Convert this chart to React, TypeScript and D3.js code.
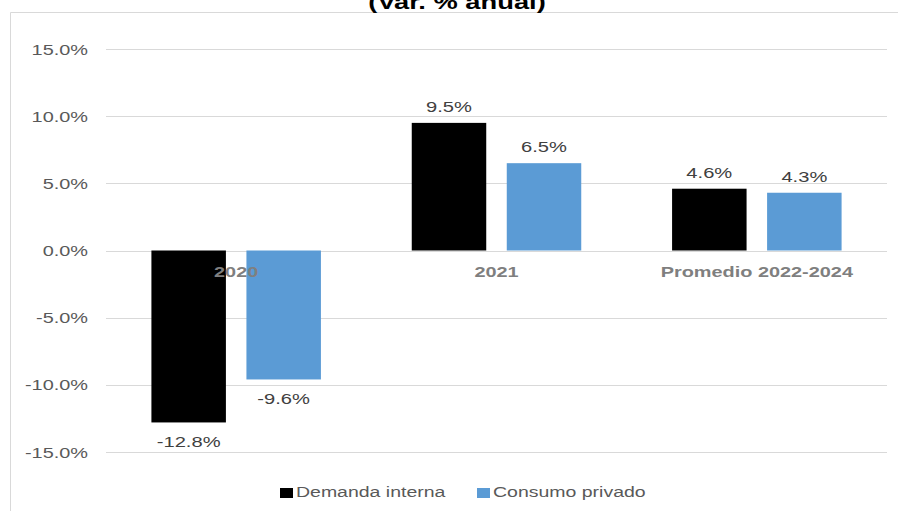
import React from "react";
import * as d3 from "d3";

const categories = ["2020", "2021", "Promedio 2022-2024"];
const seriesNames = ["Demanda interna", "Consumo privado"];
const demandaInterna = [-12.8, 9.5, 4.6];
const consumoPrivado = [-9.6, 6.5, 4.3];
const yTicks = [15, 10, 5, 0, -5, -10, -15];
const colors = ["#000000", "#5b9bd5"];
const title = "(Var. % anual)";

const W = 898;
const H = 511;
const FONT = "'Liberation Sans', Arial, Helvetica, sans-serif";
const SX = 1.3;

type STProps = {
  x: number;
  y: number;
  anchor?: "start" | "middle" | "end";
  size: number;
  weight?: string;
  fill: string;
  children: React.ReactNode;
};

function SText({ x, y, anchor = "start", size, weight = "normal", fill, children }: STProps) {
  return (
    <text
      transform={`translate(${x},${y}) scale(${SX},1)`}
      textAnchor={anchor}
      fontSize={size}
      fontWeight={weight}
      fill={fill}
    >
      {children}
    </text>
  );
}

export default function App() {
  const x0 = d3.scaleBand<string>().domain(categories).range([106, 887]).paddingInner(0).paddingOuter(0);
  const x1 = d3
    .scaleBand<string>()
    .domain(seriesNames)
    .range([0, x0.bandwidth()])
    .paddingInner(0.216)
    .paddingOuter(0.478);
  const y = d3.scaleLinear().domain([-15, 15]).range([452, 49]);
  const fmt = (v: number) => d3.format(".1f")(v).replace("\u2212", "-") + "%";
  const seriesValues = [demandaInterna, consumoPrivado];

  const legendItems = [
    { name: seriesNames[0], color: colors[0], x: 280 },
    { name: seriesNames[1], color: colors[1], x: 477 },
  ];

  return (
    <svg
      width={W}
      height={H}
      style={{ position: "absolute", left: 0, top: 0, background: "#fff" }}
      fontFamily={FONT}
    >
      <rect x={0} y={0} width={W} height={H} fill="#fff" />
      {/* chart frame */}
      <line x1={10.5} y1={12.5} x2={W} y2={12.5} stroke="#d9d9d9" strokeWidth={1} />
      <line x1={10.5} y1={12.5} x2={10.5} y2={H} stroke="#d9d9d9" strokeWidth={1} />
      {/* title */}
      <SText x={457} y={9} anchor="middle" size={21} weight="bold" fill="#000">
        {title}
      </SText>
      {/* gridlines and y labels */}
      {yTicks.map((t) => (
        <g key={t}>
          <line
            x1={106}
            x2={887}
            y1={Math.round(y(t)) + 0.5}
            y2={Math.round(y(t)) + 0.5}
            stroke="#d9d9d9"
            strokeWidth={1}
          />
          <SText x={88} y={y(t) + 5.5} anchor="end" size={15.3} fill="#595959">
            {fmt(t)}
          </SText>
        </g>
      ))}
      {/* bars */}
      {categories.map((c, i) => (
        <g key={c} transform={`translate(${x0(c)},0)`}>
          {seriesNames.map((s, j) => {
            const v = seriesValues[j][i];
            const bx = x1(s) as number;
            const top = y(Math.max(0, v));
            const bottom = y(Math.min(0, v));
            return (
              <g key={s}>
                <rect x={bx} y={top} width={x1.bandwidth()} height={bottom - top} fill={colors[j]} />
                <SText
                  x={bx + x1.bandwidth() / 2}
                  y={v >= 0 ? top - 11 : bottom + 25}
                  anchor="middle"
                  size={15.5}
                  fill="#404040"
                >
                  {fmt(v)}
                </SText>
              </g>
            );
          })}
        </g>
      ))}
      {/* category labels */}
      {categories.map((c) => (
        <SText
          key={c}
          x={(x0(c) as number) + x0.bandwidth() / 2}
          y={277}
          anchor="middle"
          size={15.3}
          weight="bold"
          fill="#7f7f7f"
        >
          {c}
        </SText>
      ))}
      {/* legend */}
      {legendItems.map((l) => (
        <g key={l.name}>
          <rect x={l.x} y={488} width={13} height={10} fill={l.color} />
          <SText x={l.x + 16} y={497} size={15} fill="#595959">
            {l.name}
          </SText>
        </g>
      ))}
    </svg>
  );
}
